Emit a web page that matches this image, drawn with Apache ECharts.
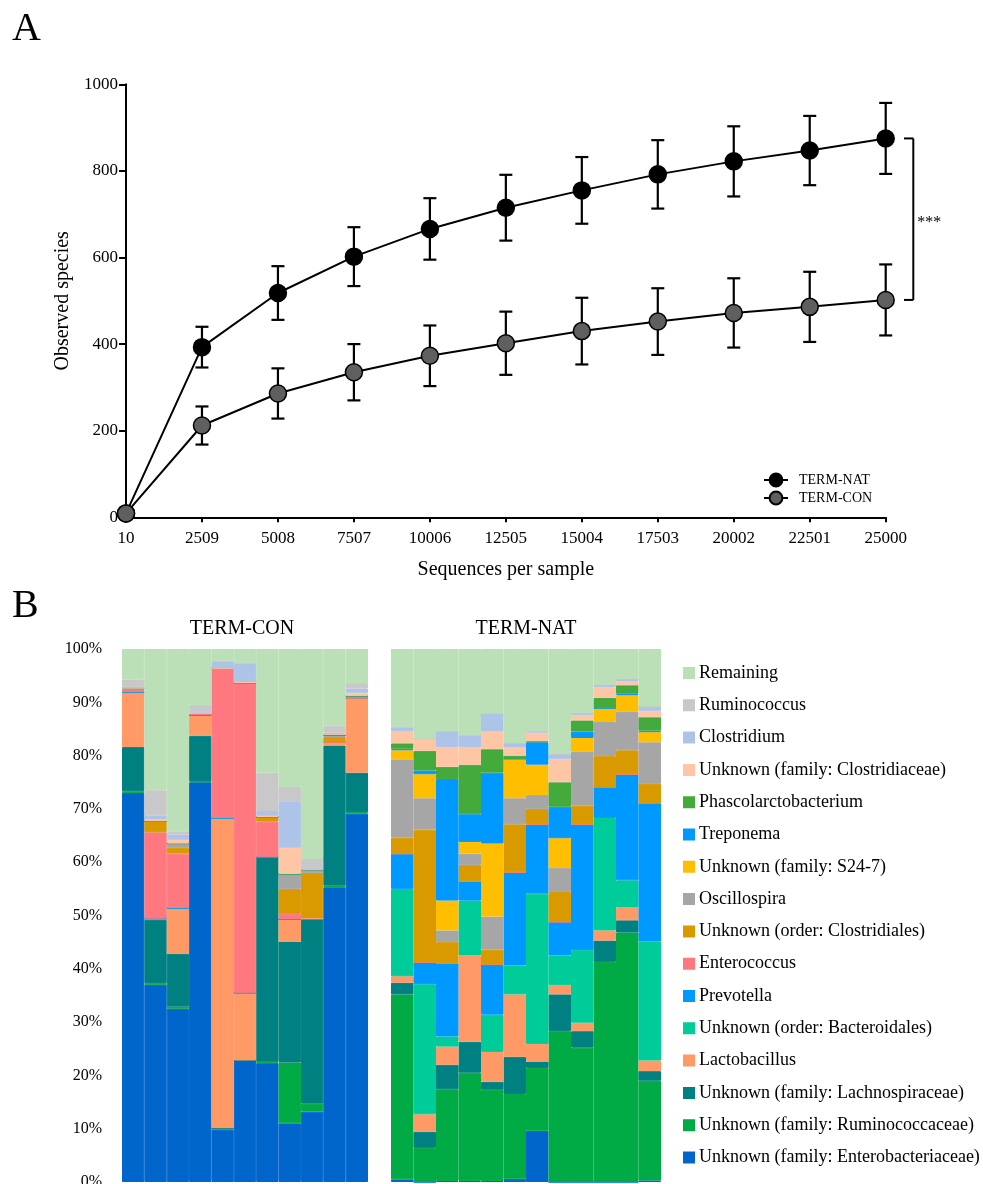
<!DOCTYPE html>
<html><head><meta charset="utf-8">
<script src="https://cdn.jsdelivr.net/npm/echarts@6/dist/echarts.min.js"></script>
<style>html,body{margin:0;padding:0;background:#fff}#chart{width:983px;height:1184px}</style>
</head><body><div id="chart"></div>
<script>
// ---------- Panel A data ----------
const depths = ['10','2509','5008','7507','10006','12505','15004','17503','20002','22501','25000'];
const natMean = [9, 393, 518, 602, 666, 715, 755, 792, 822, 847, 875];
const natSd   = [0, 47, 62, 68, 71, 76, 77, 79, 81, 80, 82];
const conMean = [9, 212, 286, 335, 373, 402, 430, 452, 472, 486, 502];
const conSd   = [0, 44, 58, 65, 70, 73, 77, 77, 80, 81, 82];
const sigLabel = '***';

// ---------- Panel B data (percent, bottom to top) ----------
const conSamples = ['C1','C2','C3','C4','C5','C6','C7','C8','C9','C10','C11'];
const natSamples = ['N1','N2','N3','N4','N5','N6','N7','N8','N9','N10','N11','N12'];
const yTicksB = [0,10,20,30,40,50,60,70,80,90,100];

const enterobacteriaceaeCON = [73.0, 37.0, 32.5, 75.0, 9.8, 22.8, 22.3, 11.0, 13.2, 55.3, 69.1];
const enterobacteriaceaeNAT = [0.5, 0, 0.2, 0.2, 0.2, 0.6, 9.6, 0, 0, 0, 0, 0.3];
const ruminococcaceaeCON = [0.3, 0.3, 0.4, 0.2, 0.3, 0, 0.4, 11.4, 1.5, 0.3, 0.3];
const ruminococcaceaeNAT = [34.7, 6.4, 17.2, 20.3, 17.1, 15.9, 11.8, 28.3, 25.2, 41.3, 46.8, 18.7];
const lachnospiraceaeCON = [8.3, 11.9, 9.9, 8.5, 0, 0, 38.3, 22.7, 34.6, 26.3, 7.4];
const lachnospiraceaeNAT = [2.2, 3.0, 4.6, 5.8, 1.5, 7.0, 1.2, 6.9, 3.1, 4.0, 2.3, 1.8];
const lactobacillusCON = [10.3, 0.2, 8.6, 3.9, 58.2, 12.7, 0, 4.2, 0.4, 0.6, 14.0];
const lactobacillusNAT = [1.2, 3.3, 3.4, 16.2, 5.6, 11.7, 3.3, 1.7, 1.6, 1.9, 2.4, 2.0];
const bacteroidalesCON = [0, 0, 0, 0, 0, 0, 0, 0, 0, 0, 0];
const bacteroidalesNAT = [16.4, 24.4, 1.9, 10.3, 7.0, 5.4, 28.2, 5.6, 13.6, 21.1, 5.1, 22.3];
const prevotellaCON = [0, 0, 0, 0, 0, 0, 0, 0, 0, 0, 0];
const prevotellaNAT = [6.6, 4.1, 13.7, 3.6, 9.4, 17.5, 13.0, 6.3, 23.6, 5.8, 19.9, 26.0];
const enterococcusCON = [0.4, 16.2, 10.2, 0.3, 28.1, 58.1, 6.6, 1.0, 0, 0, 0];
const enterococcusNAT = [0, 0, 0, 0, 0, 0, 0, 0, 0, 0, 0, 0];
const clostridialesCON = [0.4, 2.1, 1.1, 0, 0, 0, 0.9, 4.7, 8.3, 1.0, 0.4];
const clostridialesNAT = [3.0, 24.9, 4.0, 3.1, 2.8, 9.0, 2.9, 5.6, 3.5, 5.8, 4.5, 3.6];
const oscillospiraCON = [0, 0, 0.8, 0, 0, 0, 0, 2.8, 0.6, 0.3, 0];
const oscillospiraNAT = [14.7, 5.9, 2.2, 2.1, 6.2, 4.9, 2.6, 4.5, 10.1, 6.4, 7.2, 7.8];
const s247CON = [0, 0, 0, 0, 0, 0, 0, 0, 0, 0, 0];
const s247NAT = [1.7, 4.5, 5.6, 2.2, 13.7, 7.4, 5.7, 5.6, 2.6, 2.6, 3.1, 1.9];
const treponemaCON = [0, 0, 0, 0, 0, 0, 0, 0, 0, 0, 0];
const treponemaNAT = [0.3, 0.7, 22.8, 5.2, 13.3, 0, 4.2, 5.9, 1.2, 0, 0.3, 0.3];
const phascolarctobacteriumCON = [0, 0, 0, 0, 0, 0, 0, 0, 0, 0.2, 0];
const phascolarctobacteriumNAT = [1.0, 3.7, 2.3, 9.3, 4.4, 0.6, 0.2, 4.6, 2.1, 1.9, 1.6, 2.5];
const clostridiaceaeCON = [0, 0.3, 0.7, 0, 0, 0.2, 0.2, 4.9, 0.2, 0, 0.6];
const clostridiaceaeNAT = [2.3, 2.3, 3.7, 3.3, 3.3, 1.5, 1.6, 4.3, 1.0, 2.0, 0.7, 1.2];
const clostridiumCON = [0.2, 0.8, 1.0, 0.2, 1.3, 3.5, 0.9, 8.6, 0, 0.3, 0.8];
const clostridiumNAT = [0.7, 0, 3.0, 2.2, 3.4, 0.9, 0.3, 1.0, 0.4, 0.5, 0.5, 0.8];
const ruminococcusCON = [1.4, 4.7, 0.6, 1.4, 0, 0, 7.2, 2.8, 1.8, 1.3, 1.0];
const ruminococcusNAT = [0, 0, 0, 0, 0, 0, 0, 0, 0, 0, 0, 0];
const remainingCON = [5.7, 26.5, 34.2, 10.5, 2.3, 2.7, 23.2, 25.9, 39.4, 14.4, 6.4];
const remainingNAT = [14.7, 16.8, 15.4, 16.2, 12.1, 17.6, 15.4, 19.7, 12.0, 6.7, 5.6, 10.8];

const taxa = [
  'Unknown (family: Enterobacteriaceae)',
  'Unknown (family: Ruminococcaceae)',
  'Unknown (family: Lachnospiraceae)',
  'Lactobacillus',
  'Unknown (order: Bacteroidales)',
  'Prevotella',
  'Enterococcus',
  'Unknown (order: Clostridiales)',
  'Oscillospira',
  'Unknown (family: S24-7)',
  'Treponema',
  'Phascolarctobacterium',
  'Unknown (family: Clostridiaceae)',
  'Clostridium',
  'Ruminococcus',
  'Remaining'
];
const conValues = [enterobacteriaceaeCON, ruminococcaceaeCON, lachnospiraceaeCON, lactobacillusCON,
  bacteroidalesCON, prevotellaCON, enterococcusCON, clostridialesCON, oscillospiraCON, s247CON,
  treponemaCON, phascolarctobacteriumCON, clostridiaceaeCON, clostridiumCON, ruminococcusCON, remainingCON];
const natValues = [enterobacteriaceaeNAT, ruminococcaceaeNAT, lachnospiraceaeNAT, lactobacillusNAT,
  bacteroidalesNAT, prevotellaNAT, enterococcusNAT, clostridialesNAT, oscillospiraNAT, s247NAT,
  treponemaNAT, phascolarctobacteriumNAT, clostridiaceaeNAT, clostridiumNAT, ruminococcusNAT, remainingNAT];

// ---------- styles ----------
const palette = ['#0066CC','#00AA44','#008080','#FF9966','#00CC99','#0099FF','#FF7880','#D99A00',
  '#A6A6A6','#FFBF00','#0099FF','#43AA3B','#FFC6A6','#AEC3E8','#C8C8C8','#BBDFB7'];
const FONT = 'Liberation Serif';

const chart = echarts.init(document.getElementById('chart'), null, {renderer:'canvas'});

function errorSeries(name, means, sds) {
  return {
    type: 'custom', name: name, xAxisIndex: 0, yAxisIndex: 0, z: 1, silent: true, clip: false,
    data: means.map((m, i) => [i, m - sds[i], m + sds[i]]),
    encode: {x: 0, y: [1, 2]},
    renderItem: function (params, api) {
      const i = api.value(0), lo = api.value(1), hi = api.value(2);
      if (hi <= lo) return null;
      const t = api.coord([i, hi]), b = api.coord([i, lo]);
      const w = 6.5, st = {stroke: '#000', lineWidth: 2.2};
      return {type: 'group', children: [
        {type: 'line', shape: {x1: t[0], y1: t[1], x2: b[0], y2: b[1]}, style: st},
        {type: 'line', shape: {x1: t[0]-w, y1: t[1], x2: t[0]+w, y2: t[1]}, style: st},
        {type: 'line', shape: {x1: b[0]-w, y1: b[1], x2: b[0]+w, y2: b[1]}, style: st}
      ]};
    }
  };
}

const last = depths.length - 1;
const bracketSeries = {
  type: 'custom', name: 'sig', xAxisIndex: 0, yAxisIndex: 0, silent: true, clip: false, z: 5,
  data: [[last, natMean[last], conMean[last]]],
  encode: {x: 0, y: [1, 2]},
  renderItem: function (params, api) {
    const a = api.coord([api.value(0), api.value(1)]);
    const b = api.coord([api.value(0), api.value(2)]);
    const xv = a[0] + 27.6, xt = a[0] + 18.3;
    const st = {stroke: '#000', lineWidth: 2};
    return {type: 'group', children: [
      {type: 'line', shape: {x1: xv, y1: a[1], x2: xv, y2: b[1]}, style: st},
      {type: 'line', shape: {x1: xt, y1: a[1], x2: xv, y2: a[1]}, style: st},
      {type: 'line', shape: {x1: xt, y1: b[1], x2: xv, y2: b[1]}, style: st},
      {type: 'text', x: xv + 4, y: (a[1] + b[1]) / 2 + 4,
        style: {text: sigLabel, font: '16px "' + FONT + '"', fill: '#000', textAlign: 'left', textVerticalAlign: 'middle'}}
    ]};
  }
};

const barSeries = [];
taxa.forEach((name, k) => {
  barSeries.push({type: 'bar', name: name, xAxisIndex: 1, yAxisIndex: 1, stack: 'con',
    barCategoryGap: '0%', itemStyle: {color: palette[k], borderColor: palette[k], borderWidth: 1},
    data: conValues[k]});
});
taxa.forEach((name, k) => {
  barSeries.push({type: 'bar', name: name, xAxisIndex: 2, yAxisIndex: 2, stack: 'nat',
    barCategoryGap: '0%', itemStyle: {color: palette[k], borderColor: palette[k], borderWidth: 1},
    data: natValues[k]});
});

const axisBlack = {lineStyle: {color: '#000', width: 2}};
const option = {
  animation: false,
  backgroundColor: '#fff',
  textStyle: {fontFamily: FONT},
  grid: [
    {left: 126, top: 84.3, width: 759.7, height: 433, containLabel: false, outerBoundsMode: 'none'},
    {left: 122, top: 649, width: 246, height: 533, containLabel: false, outerBoundsMode: 'none'},
    {left: 391, top: 649, width: 270, height: 533, containLabel: false, outerBoundsMode: 'none'}
  ],
  xAxis: [
    {type: 'category', gridIndex: 0, data: depths, boundaryGap: false,
      axisLine: axisBlack, axisTick: {length: 5, lineStyle: {color: '#000', width: 2}},
      axisLabel: {color: '#000', fontSize: 17, fontFamily: FONT, margin: 13},
      name: 'Sequences per sample', nameLocation: 'middle', nameGap: 42,
      nameTextStyle: {color: '#000', fontSize: 20, fontFamily: FONT}},
    {type: 'category', gridIndex: 1, data: conSamples, show: false},
    {type: 'category', gridIndex: 2, data: natSamples, show: false}
  ],
  yAxis: [
    {type: 'value', gridIndex: 0, min: 0, max: 1000, interval: 200,
      axisLine: {show: true, lineStyle: {color: '#000', width: 2}},
      axisTick: {show: true, length: 7, lineStyle: {color: '#000', width: 2}},
      splitLine: {show: false},
      axisLabel: {color: '#000', fontSize: 17, fontFamily: FONT, margin: 8, formatter: v => String(v)},
      name: 'Observed species', nameLocation: 'middle', nameGap: 36, nameRotate: 90,
      nameTextStyle: {color: '#000', fontSize: 20, fontFamily: FONT}},
    {type: 'value', gridIndex: 1, min: yTicksB[0], max: yTicksB[yTicksB.length - 1], interval: 10,
      axisLine: {show: false}, axisTick: {show: false}, splitLine: {show: false},
      axisLabel: {color: '#000', fontSize: 16, fontFamily: FONT, margin: 20, formatter: '{value}%'}},
    {type: 'value', gridIndex: 2, min: 0, max: 100, show: false, splitLine: {show: false}}
  ],
  legend: [
    {data: ['TERM-NAT', 'TERM-CON'], orient: 'vertical', left: 763, top: 472,
      itemWidth: 24, itemHeight: 16, itemGap: 2, padding: 0, selectedMode: false,
      textStyle: {color: '#000', fontSize: 14, fontFamily: FONT, lineHeight: 16, padding: [0, 0, 0, 6]}},
    {data: taxa.slice().reverse(), orient: 'vertical', left: 683, top: 663, icon: 'rect',
      itemWidth: 10, itemHeight: 10, itemGap: 12.3, padding: 0, selectedMode: false,
      textStyle: {color: '#000', fontSize: 18, fontFamily: FONT, lineHeight: 20}}
  ],
  graphic: [
    {type: 'text', x: 12, y: 29, style: {text: 'A', font: '40px "' + FONT + '"', fill: '#000', textAlign: 'left', textVerticalAlign: 'middle'}},
    {type: 'text', x: 12, y: 606, style: {text: 'B', font: '40px "' + FONT + '"', fill: '#000', textAlign: 'left', textVerticalAlign: 'middle'}},
    {type: 'text', x: 242, y: 629, style: {text: 'TERM-CON', font: '20px "' + FONT + '"', fill: '#000', textAlign: 'center', textVerticalAlign: 'middle'}},
    {type: 'text', x: 526, y: 629, style: {text: 'TERM-NAT', font: '20px "' + FONT + '"', fill: '#000', textAlign: 'center', textVerticalAlign: 'middle'}}
  ],
  series: [
    errorSeries('natErr', natMean, natSd),
    errorSeries('conErr', conMean, conSd),
    {type: 'line', name: 'TERM-NAT', xAxisIndex: 0, yAxisIndex: 0, data: natMean, z: 3,
      symbol: 'circle', symbolSize: 17,
      itemStyle: {color: '#000', borderColor: '#000', borderWidth: 1.5},
      lineStyle: {color: '#000', width: 2}},
    {type: 'line', name: 'TERM-CON', xAxisIndex: 0, yAxisIndex: 0, data: conMean, z: 4,
      symbol: 'circle', symbolSize: 17,
      itemStyle: {color: '#5f5f5f', borderColor: '#000', borderWidth: 1.5},
      lineStyle: {color: '#000', width: 2}},
    bracketSeries
  ].concat(barSeries)
};
chart.setOption(option);
</script></body></html>
